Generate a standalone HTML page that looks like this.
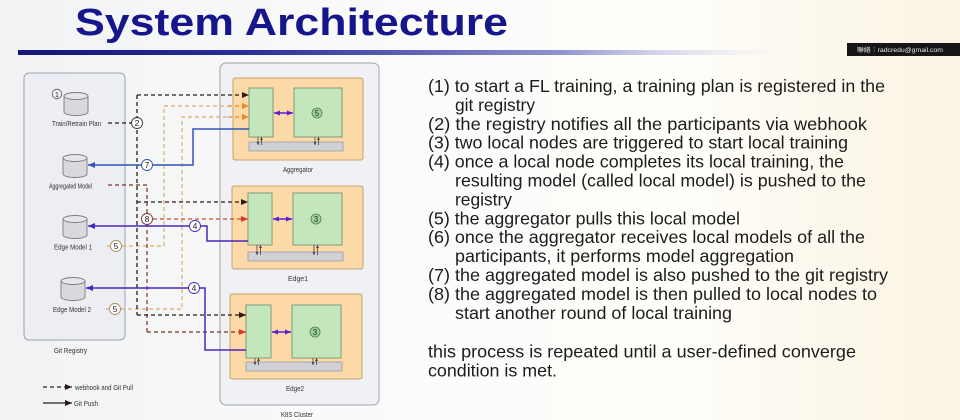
<!DOCTYPE html>
<html><head><meta charset="utf-8"><style>
html,body{margin:0;padding:0;width:960px;height:420px;overflow:hidden;background:#fff}
svg{display:block}
text{font-family:"Liberation Sans","Noto Sans CJK TC",sans-serif}
</style></head><body>
<svg width="960" height="420" viewBox="0 0 960 420" xmlns="http://www.w3.org/2000/svg">
<defs>
<linearGradient id="bg" x1="0" y1="0" x2="1" y2="0">
<stop offset="0" stop-color="#f1f2f4"/><stop offset="0.35" stop-color="#fafafa"/><stop offset="0.7" stop-color="#fffefa"/><stop offset="1" stop-color="#fbf3e3"/>
</linearGradient>
<linearGradient id="bar" x1="0" y1="0" x2="1" y2="0">
<stop offset="0" stop-color="#15157a"/><stop offset="0.3" stop-color="#2a2f9a"/><stop offset="0.7" stop-color="#8f92cf"/><stop offset="1" stop-color="#e4e4f4" stop-opacity="0"/>
</linearGradient>
<marker id="aK" markerUnits="userSpaceOnUse" markerWidth="7" markerHeight="6" refX="7" refY="3" viewBox="0 0 7 6" orient="auto"><path d="M0,0 L7,3 L0,6 z" fill="#2a1c18"/></marker>
<marker id="aR" markerUnits="userSpaceOnUse" markerWidth="7" markerHeight="6" refX="7" refY="3" viewBox="0 0 7 6" orient="auto"><path d="M0,0 L7,3 L0,6 z" fill="#d83a28"/></marker>
<marker id="aO" markerUnits="userSpaceOnUse" markerWidth="7" markerHeight="6" refX="7" refY="3" viewBox="0 0 7 6" orient="auto"><path d="M0,0 L7,3 L0,6 z" fill="#ee872c"/></marker>
<marker id="aB" markerUnits="userSpaceOnUse" markerWidth="7" markerHeight="6" refX="7" refY="3" viewBox="0 0 7 6" orient="auto"><path d="M0,0 L7,3 L0,6 z" fill="#2f55b5"/></marker>
<marker id="aP" markerUnits="userSpaceOnUse" markerWidth="7" markerHeight="6" refX="7" refY="3" viewBox="0 0 7 6" orient="auto"><path d="M0,0 L7,3 L0,6 z" fill="#4b25c0"/></marker>
<marker id="aPs" markerUnits="userSpaceOnUse" markerWidth="6" markerHeight="5" refX="6" refY="2.5" viewBox="0 0 6 5" orient="auto-start-reverse"><path d="M0,0 L6,2.5 L0,5 z" fill="#5a1fd0"/></marker>
<marker id="aS" markerUnits="userSpaceOnUse" markerWidth="3" markerHeight="3" refX="3" refY="1.5" viewBox="0 0 3 3" orient="auto"><path d="M0,0 L3,1.5 L0,3 z" fill="#444"/></marker>
</defs>

<rect x="0" y="0" width="960" height="420" fill="url(#bg)"/>

<!-- Title -->
<text x="75" y="35" font-size="38" font-weight="bold" fill="#16168c" textLength="433" lengthAdjust="spacingAndGlyphs">System Architecture</text>
<rect x="18" y="50" width="775" height="5" fill="url(#bar)"/>
<rect x="847" y="43" width="113" height="13" fill="#161616"/>
<text x="857" y="52" font-size="6" fill="#e8e8e8" textLength="86" lengthAdjust="spacingAndGlyphs">聯絡：radcredu@gmail.com</text>

<!-- Git Registry -->
<rect x="24" y="73" width="101" height="267" rx="5" fill="#eceef3" stroke="#9ea3ad" stroke-width="1"/>
<text x="70.5" y="353" font-size="7.5" fill="#333" text-anchor="middle" textLength="33" lengthAdjust="spacingAndGlyphs">Git Registry</text>

<!-- cylinders -->
<g fill="#d9d9dd" stroke="#7a7a80" stroke-width="0.9">
<path d="M64,96 L64,112 A12,3.5 0 0 0 88,112 L88,96"/><ellipse cx="76" cy="96" rx="12" ry="3.5" fill="#e6e6ea"/>
<path d="M63,158 L63,174 A12,3.5 0 0 0 87,174 L87,158"/><ellipse cx="75" cy="158" rx="12" ry="3.5" fill="#e6e6ea"/>
<path d="M63,219 L63,235 A12,3.5 0 0 0 87,235 L87,219"/><ellipse cx="75" cy="219" rx="12" ry="3.5" fill="#e6e6ea"/>
<path d="M61,281 L61,297 A12,3.5 0 0 0 85,297 L85,281"/><ellipse cx="73" cy="281" rx="12" ry="3.5" fill="#e6e6ea"/>
</g>
<g font-size="7.5" fill="#333" text-anchor="middle">
<text x="76.5" y="126" textLength="49" lengthAdjust="spacingAndGlyphs">Train/Retrain Plan</text>
<text x="70.5" y="188.5" textLength="43" lengthAdjust="spacingAndGlyphs">Aggregated Model</text>
<text x="73" y="249.5" textLength="38" lengthAdjust="spacingAndGlyphs">Edge Model 1</text>
<text x="72" y="312" textLength="38" lengthAdjust="spacingAndGlyphs">Edge Model 2</text>
</g>
<circle cx="57" cy="94" r="4.8" fill="none" stroke="#555" stroke-width="0.8"/>
<text x="57" y="97" font-size="7" text-anchor="middle" fill="#333">1</text>

<!-- K8S cluster -->
<rect x="220" y="63" width="159" height="342" rx="6" fill="#f0f1f5" stroke="#9ea3ad" stroke-width="1"/>
<text x="297" y="417" font-size="7.5" fill="#333" text-anchor="middle" textLength="32" lengthAdjust="spacingAndGlyphs">K8S Cluster</text>

<!-- node boxes -->
<g stroke="#c4a273" stroke-width="1" fill="#fcd9a6">
<rect x="233" y="78" width="130" height="82" rx="2"/>
<rect x="232" y="186" width="131" height="83" rx="2"/>
<rect x="230" y="294" width="132" height="85" rx="2"/>
</g>
<g stroke="#7f9a78" stroke-width="1" fill="#c4e6bd">
<rect x="249" y="88" width="24" height="49"/>
<rect x="294" y="88" width="48" height="49"/>
<rect x="248" y="193" width="24" height="52"/>
<rect x="293" y="193" width="49" height="52"/>
<rect x="246" y="305" width="25" height="53"/>
<rect x="292" y="305" width="49" height="53"/>
</g>
<g stroke="#9a9aa0" stroke-width="0.8" fill="#d0d1d7">
<rect x="249" y="142" width="94" height="9"/>
<rect x="248" y="252" width="95" height="9"/>
<rect x="246" y="362" width="96" height="9"/>
</g>
<!-- tiny arrows to bar -->
<g stroke="#444" stroke-width="0.8">
<line x1="258" y1="137" x2="258" y2="145" marker-end="url(#aS)"/><line x1="261.5" y1="145" x2="261.5" y2="137" marker-end="url(#aS)"/>
<line x1="315" y1="137" x2="315" y2="145" marker-end="url(#aS)"/><line x1="318.5" y1="145" x2="318.5" y2="137" marker-end="url(#aS)"/>
<line x1="257" y1="245" x2="257" y2="255" marker-end="url(#aS)"/><line x1="260.5" y1="255" x2="260.5" y2="245" marker-end="url(#aS)"/>
<line x1="314" y1="245" x2="314" y2="255" marker-end="url(#aS)"/><line x1="317.5" y1="255" x2="317.5" y2="245" marker-end="url(#aS)"/>
<line x1="255" y1="358" x2="255" y2="365" marker-end="url(#aS)"/><line x1="258.5" y1="365" x2="258.5" y2="358" marker-end="url(#aS)"/>
<line x1="313" y1="358" x2="313" y2="365" marker-end="url(#aS)"/><line x1="316.5" y1="365" x2="316.5" y2="358" marker-end="url(#aS)"/>
</g>
<!-- purple double arrows -->
<g stroke="#5a1fd0" stroke-width="1.6">
<line x1="274" y1="113" x2="293" y2="113" marker-start="url(#aPs)" marker-end="url(#aPs)"/>
<line x1="273" y1="219" x2="292" y2="219" marker-start="url(#aPs)" marker-end="url(#aPs)"/>
<line x1="272" y1="332" x2="291" y2="332" marker-start="url(#aPs)" marker-end="url(#aPs)"/>
</g>
<g>
<circle cx="317" cy="113" r="5" fill="#9ed49a" stroke="#4f7a4a" stroke-width="0.8"/><text x="317" y="116" font-size="8" text-anchor="middle" fill="#223">5</text>
<circle cx="316" cy="219" r="5" fill="#9ed49a" stroke="#4f7a4a" stroke-width="0.8"/><text x="316" y="222" font-size="8" text-anchor="middle" fill="#223">3</text>
<circle cx="315" cy="332" r="5" fill="#9ed49a" stroke="#4f7a4a" stroke-width="0.8"/><text x="315" y="335" font-size="8" text-anchor="middle" fill="#223">3</text>
</g>
<g font-size="7.5" fill="#333" text-anchor="middle">
<text x="298" y="172" textLength="30" lengthAdjust="spacingAndGlyphs">Aggregator</text>
<text x="298" y="281" textLength="20" lengthAdjust="spacingAndGlyphs">Edge1</text>
<text x="295" y="391" textLength="18" lengthAdjust="spacingAndGlyphs">Edge2</text>
</g>

<!-- orange dashed (5) -->
<g fill="none" stroke="#d9ad70" stroke-width="1.2" stroke-dasharray="4,3">
<polyline points="122,246 164,246 164,106 230,106"/>
<polyline points="121,309 182,309 182,117 230,117"/>
<line x1="107" y1="246" x2="110" y2="246"/>
<line x1="106" y1="309" x2="109" y2="309"/>
</g>
<g fill="none" stroke="#ee872c" stroke-width="1.2" stroke-dasharray="4,3">
<line x1="228" y1="106" x2="249" y2="106" marker-end="url(#aO)"/>
<line x1="228" y1="117" x2="249" y2="117" marker-end="url(#aO)"/>
</g>

<!-- dark red dashed (8) -->
<g fill="none" stroke="#7a3328" stroke-width="1.2" stroke-dasharray="4,3">
<polyline points="108,185 147,185 147,332"/>
<line x1="147" y1="332" x2="246" y2="332" marker-end="url(#aR)"/>
</g>
<line x1="153" y1="219" x2="248" y2="219" stroke="#c9502f" stroke-width="1.2" stroke-dasharray="4,3" marker-end="url(#aR)"/>

<!-- black dashed (2) -->
<g fill="none" stroke="#2a1c18" stroke-width="1.3" stroke-dasharray="4,3">
<line x1="108" y1="123" x2="131" y2="123"/>
<line x1="137" y1="95" x2="137" y2="315"/>
<line x1="137" y1="95" x2="249" y2="95" marker-end="url(#aK)"/>
<line x1="137" y1="202" x2="248" y2="202" marker-end="url(#aK)"/>
<line x1="137" y1="315" x2="246" y2="315" marker-end="url(#aK)"/>
</g>

<!-- blue solid (7) -->
<polyline points="249,129 193,129 193,165 88,165" fill="none" stroke="#2f55b5" stroke-width="1.5" marker-end="url(#aB)"/>
<!-- purple solid (4) -->
<polyline points="248,241 207,241 207,226 88,226" fill="none" stroke="#4b25c0" stroke-width="1.5" marker-end="url(#aP)"/>
<polyline points="246,350 205,350 205,288 86,288" fill="none" stroke="#4b25c0" stroke-width="1.5" marker-end="url(#aP)"/>

<!-- circled numbers on connectors -->
<g font-size="8.5" text-anchor="middle" fill="#222">
<circle cx="137" cy="123" r="5.5" fill="#fff" stroke="#333" stroke-width="0.9"/><text x="137" y="126">2</text>
<circle cx="147" cy="165" r="5.5" fill="#fff" stroke="#2f55b5" stroke-width="0.9"/><text x="147" y="168">7</text>
<circle cx="147" cy="219" r="5.5" fill="#fff" stroke="#7a3328" stroke-width="0.9"/><text x="147" y="222">8</text>
<circle cx="195" cy="226" r="5.5" fill="#fff" stroke="#4b25c0" stroke-width="0.9"/><text x="195" y="229">4</text>
<circle cx="194" cy="288" r="5.5" fill="#fff" stroke="#4b25c0" stroke-width="0.9"/><text x="194" y="291">4</text>
<circle cx="116" cy="246" r="5.5" fill="#fff" stroke="#b08a55" stroke-width="0.9"/><text x="116" y="249">5</text>
<circle cx="115" cy="309" r="5.5" fill="#fff" stroke="#b08a55" stroke-width="0.9"/><text x="115" y="312">5</text>
</g>

<!-- legend -->
<line x1="43" y1="387" x2="72" y2="387" stroke="#222" stroke-width="1.2" stroke-dasharray="4,3" marker-end="url(#aK)"/>
<text x="75" y="390" font-size="7.5" fill="#333" textLength="58" lengthAdjust="spacingAndGlyphs">webhook and Git Pull</text>
<line x1="43" y1="403" x2="72" y2="403" stroke="#222" stroke-width="1.3" marker-end="url(#aK)"/>
<text x="74" y="406" font-size="7.5" fill="#333" textLength="24" lengthAdjust="spacingAndGlyphs">Git Push</text>

<!-- right text -->
<g font-size="17.5" fill="#1c1c1c" lengthAdjust="spacingAndGlyphs">
<text x="428" y="92" textLength="457" lengthAdjust="spacingAndGlyphs">(1) to start a FL training, a training plan is registered in the</text>
<text x="455" y="110.9" textLength="80" lengthAdjust="spacingAndGlyphs">git registry</text>
<text x="428" y="129.8" textLength="439" lengthAdjust="spacingAndGlyphs">(2) the registry notifies all the participants via webhook</text>
<text x="428" y="148.7" textLength="420" lengthAdjust="spacingAndGlyphs">(3) two local nodes are triggered to start local training</text>
<text x="428" y="167.6" textLength="416" lengthAdjust="spacingAndGlyphs">(4) once a local node completes its local training, the</text>
<text x="455" y="186.5" textLength="411" lengthAdjust="spacingAndGlyphs">resulting model (called local model) is pushed to the</text>
<text x="455" y="205.4" textLength="57" lengthAdjust="spacingAndGlyphs">registry</text>
<text x="428" y="224.3" textLength="312" lengthAdjust="spacingAndGlyphs">(5) the aggregator pulls this local model</text>
<text x="428" y="243.2" textLength="437" lengthAdjust="spacingAndGlyphs">(6) once the aggregator receives local models of all the</text>
<text x="455" y="262.1" textLength="339" lengthAdjust="spacingAndGlyphs">participants, it performs model aggregation</text>
<text x="428" y="281" textLength="460" lengthAdjust="spacingAndGlyphs">(7) the aggregated model is also pushed to the git registry</text>
<text x="428" y="299.9" textLength="449" lengthAdjust="spacingAndGlyphs">(8) the aggregated model is then pulled to local nodes to</text>
<text x="455" y="318.8" textLength="277" lengthAdjust="spacingAndGlyphs">start another round of local training</text>
<text x="428" y="357.5" textLength="428" lengthAdjust="spacingAndGlyphs">this process is repeated until a user-defined converge</text>
<text x="428" y="376.4" textLength="129" lengthAdjust="spacingAndGlyphs">condition is met.</text>
</g>
</svg>
</body></html>
